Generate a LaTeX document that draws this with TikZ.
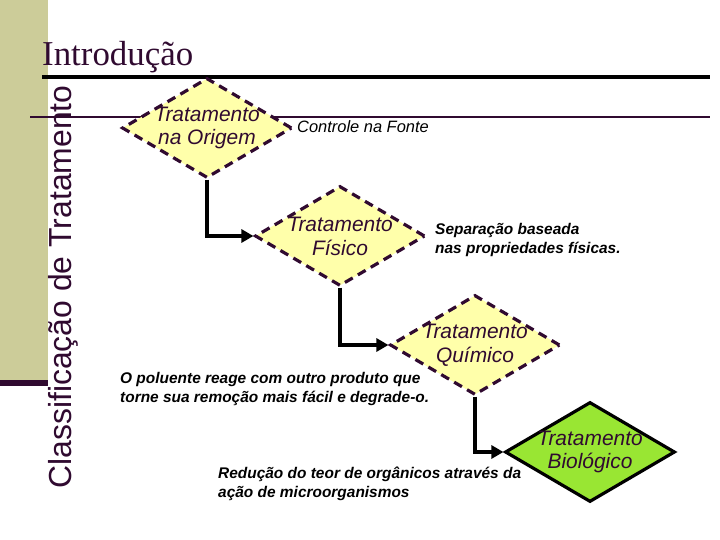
\documentclass[tikz,border=0pt]{standalone}
\usepackage{fontspec}
\setmainfont{Liberation Serif}
\setsansfont{Liberation Sans}
\usetikzlibrary{shapes.geometric,arrows.meta}
\definecolor{olive}{RGB}{204,204,153}
\definecolor{plum}{RGB}{48,10,48}
\definecolor{pale}{RGB}{255,255,170}
\definecolor{leaf}{RGB}{153,230,51}
\tikzstyle{stage}=[diamond,inner sep=0pt,minimum width=170bp,minimum height=100bp,
  fill=pale,draw=plum,line width=3.2pt,dash pattern=on 9pt off 6pt]
\tikzstyle{stagetext}=[font=\sffamily\itshape\fontsize{21}{24}\selectfont,align=center,text=plum]
\tikzstyle{flow}=[line width=3.5pt,-{Triangle[length=12pt,width=13pt]}]
\tikzstyle{note}=[font=\sffamily\itshape\bfseries\fontsize{15.5}{18.5}\selectfont,align=left,anchor=west,inner sep=0pt]
\begin{document}
\begin{tikzpicture}[x=1bp,y=-1bp]
\useasboundingbox (0,0) rectangle (720,540);
\fill[olive] (0,0) rectangle (48,383);
\fill[plum] (0,380) rectangle (48,386);
\draw[plum,line width=3pt] (30,117) -- (710,117);
\draw[black,line width=3.5pt] (42,77) -- (710,77);
\node[anchor=base west,inner sep=0pt,font=\fontsize{35}{38}\selectfont,text=plum] (title) at (42,66) {Introdução};
\node[rotate=90,inner sep=0pt,font=\sffamily\fontsize{32}{34}\selectfont,text=plum] (side) at (63,287) {Classificação de Tratamento};
% stages
\node[stage,label={[stagetext]center:Tratamento\\na Origem}] (orig) at (207,128) {};
\node[stage,label={[stagetext]center:Tratamento\\Físico}] (fis) at (340,236) {};
\node[stage,label={[stagetext]center:Tratamento\\Químico}] (qui) at (475,345) {};
\node[stage,fill=leaf,draw=black,solid,label={[stagetext]center:Tratamento\\Biológico}] (bio) at (590,452) {};
\draw[flow] (orig.south) |- (fis.west);
\draw[flow] (fis.south) |- (qui.west);
\draw[flow] (qui.south) |- (bio.west);
% notes
\node[note,font=\sffamily\itshape\fontsize{16.5}{19}\selectfont] (fonte) at (297,127) {Controle na Fonte};
\node[note] (sep) at (435,240) {Separação baseada\\nas propriedades físicas.};
\node[note] (pol) at (120,389) {O poluente reage com outro produto que\\torne sua remoção mais fácil e degrade-o.};
\node[note] (red) at (218,484) {Redução do teor de orgânicos através da\\ação de microorganismos};
\end{tikzpicture}
\end{document}
